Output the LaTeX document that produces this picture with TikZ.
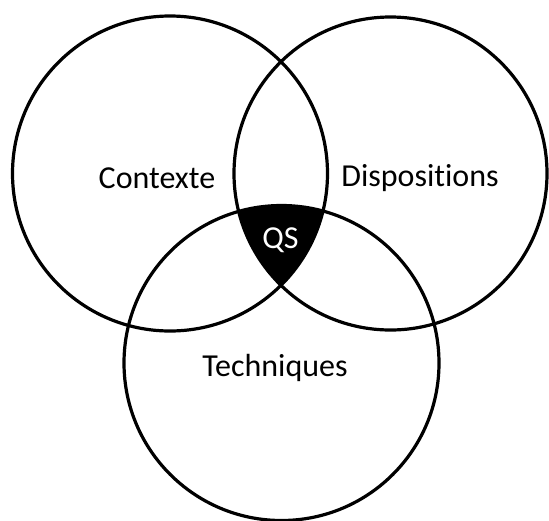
\documentclass[tikz,border=0pt]{standalone}
\usepackage{fontspec}
\setmainfont{Carlito}[Ligatures={NoCommon}]
\begin{document}
\begin{tikzpicture}[x=1pt,y=-1pt,
  ring/.style={draw=black,line width=3.2pt},
  label/.style={font=\fontsize{32}{38}\selectfont,inner sep=0pt,anchor=center}]
\useasboundingbox (0,0) rectangle (549,520);
% centres of the three sets
\coordinate (cA) at (170,173.5);
\coordinate (cB) at (390.5,173.5);
\coordinate (cC) at (281.5,363);
\def\rA{157.5pt}
\def\rB{156.5pt}
\def\rC{157.5pt}
% common part of the three sets
\begin{scope}
  \clip (cA) circle (\rA);
  \clip (cB) circle (\rB);
  \fill[black] (cC) circle (\rC);
\end{scope}
% outlines
\draw[ring] (cA) circle (\rA);
\draw[ring] (cB) circle (\rB);
\draw[ring] (cC) circle (\rC);
% labels
\node[label] (ctx) at (157,178) {Contexte};
\node[label] (dis) at (420,178) {Dispositions};
\node[label] (tec) at (275,368) {Techniques};
\node[label,text=white] (qs) at (280.5,240) {QS};
\end{tikzpicture}
\end{document}
